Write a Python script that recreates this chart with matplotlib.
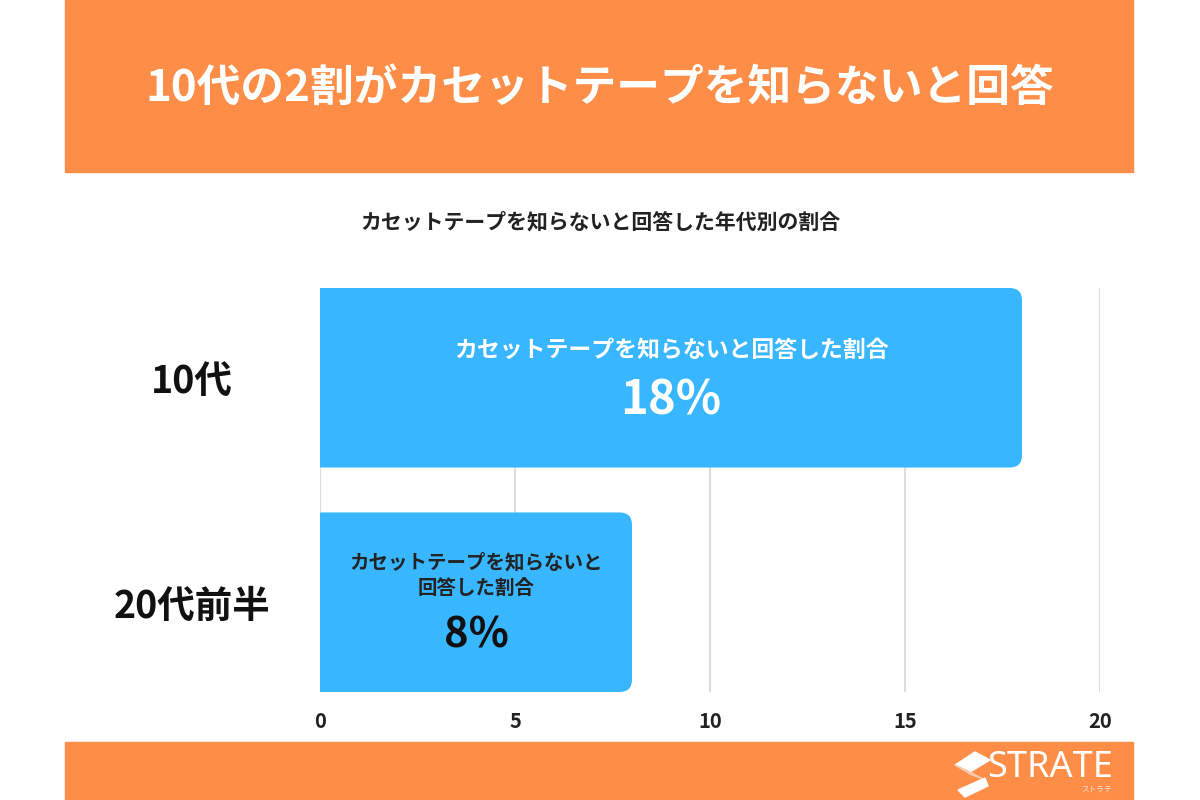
import matplotlib
matplotlib.use("Agg")
import matplotlib.pyplot as plt
from matplotlib.patches import FancyBboxPatch, Rectangle, Polygon

plt.rcParams['font.family'] = ['Noto Sans CJK JP', 'DejaVu Sans']

# ---- data ----
categories = ["10代", "20代前半"]
values = [18, 8]
bar_labels = ["カセットテープを知らないと回答した割合", "カセットテープを知らないと\n回答した割合"]
value_labels = ["18%", "8%"]
x_ticks = [0, 5, 10, 15, 20]
title = "10代の2割がカセットテープを知らないと回答"
subtitle = "カセットテープを知らないと回答した年代別の割合"
brand = "STRATE"
brand_sub = "ストラテ"

ORANGE = "#FD8D47"
BLUE = "#38B6FF"

fig = plt.figure(figsize=(12, 8), dpi=100)
fig.patch.set_facecolor("white")

# banners
fig.patches.append(Rectangle((65/1200, 1-172/800), (1133-65)/1200, 172/800,
                             transform=fig.transFigure, color=ORANGE, zorder=0))
fig.patches.append(Rectangle((65/1200, 0), (1133-65)/1200, 58/800,
                             transform=fig.transFigure, color=ORANGE, zorder=0))
fig.text(0.5, 1-88/800, title, ha="center", va="center", color="white",
         fontsize=31.5, fontweight="bold")
fig.text(0.5, 1-222/800, subtitle, ha="center", va="center", color="#222222",
         fontsize=15, fontweight="bold")

# logo
fig.text(1113/1200, 1-768/800, brand, ha="right", va="center", color="white",
         fontsize=26, fontfamily=["Noto Sans"], fontstretch="condensed")
fig.text(1112/1200, 1-790/800, brand_sub, ha="right", va="center", color="#FBE3D3",
         fontsize=5.5)
def fpoly(pts, color):
    fig.patches.append(Polygon([(x/1200, 1-y/800) for x, y in pts], closed=True,
                               transform=fig.transFigure, color=color, zorder=1))
fpoly([(975, 752), (990, 760), (970, 772), (955, 765)], "white")
fpoly([(955, 765), (970, 772), (985, 780), (970, 774)], "#F5C9B0")
fpoly([(985, 778), (988, 786), (965, 797), (958, 790)], "white")

# axes
ax = fig.add_axes([320/1200, 1-692/800, 780/1200, 404/800])
ax.set_xlim(0, 20)
ax.set_ylim(1.4, -0.4)
y = list(range(len(categories)))
bars = ax.barh(y, values, height=0.8, color=BLUE)
for rect in bars:
    x0, y0, w, h = rect.get_x(), rect.get_y(), rect.get_width(), rect.get_height()
    rect.set_visible(False)
    patch = FancyBboxPatch((x0 - 1, y0), w + 1, h,
                           boxstyle="round,pad=0,rounding_size=0.32",
                           mutation_aspect=39/224, facecolor=BLUE, edgecolor="none",
                           zorder=2)
    ax.add_patch(patch)

ax.set_xticks(x_ticks)
ax.set_xticklabels([str(t) for t in x_ticks], fontsize=14.5, fontweight="bold", color="#222222")
ax.set_yticks(y)
ax.set_yticklabels(categories, fontsize=27, fontweight="bold", color="#111111", ha="center")
ax.tick_params(axis="x", length=0, pad=14)
ax.tick_params(axis="y", length=0, pad=92)
ax.grid(axis="x", color="#DDDDDD", linewidth=1.5, zorder=0)
ax.set_axisbelow(True)
for s in ax.spines.values():
    s.set_visible(False)

# in-bar labels
ax.text(values[0] / 2, 0 - 0.12, bar_labels[0], ha="center", va="center",
        color="white", fontsize=16.5, fontweight="bold", zorder=3)
ax.text(values[0] / 2, 0 + 0.10, value_labels[0], ha="center", va="center",
        color="white", fontsize=34, fontweight="semibold", zorder=3)
ax.text(values[1] / 2, 1 - 0.12, bar_labels[1], ha="center", va="center",
        color="#222222", fontsize=14, fontweight="bold", linespacing=1.45, zorder=3)
ax.text(values[1] / 2, 1 + 0.15, value_labels[1], ha="center", va="center",
        color="#111111", fontsize=30, fontweight="semibold", zorder=3)

fig.savefig("out.png", dpi=100)
